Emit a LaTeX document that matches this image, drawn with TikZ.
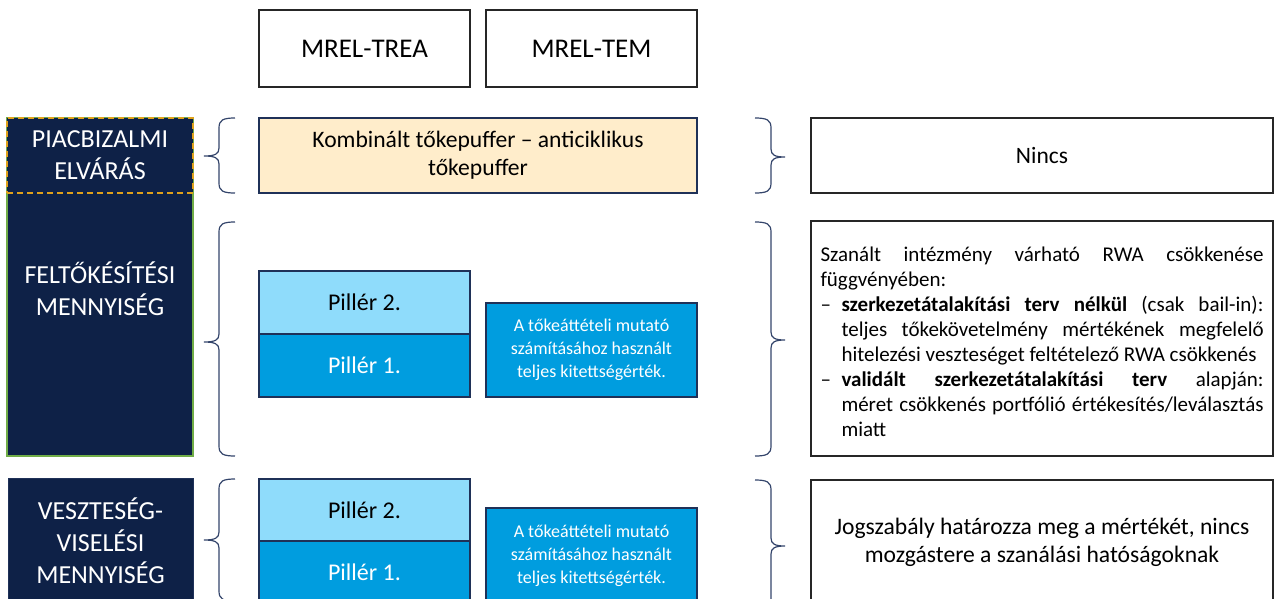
\documentclass[tikz,border=0pt]{standalone}
\usepackage{fontspec}
\setmainfont{Carlito}
\definecolor{navy}{HTML}{0E2147}
\definecolor{edge}{HTML}{1F3158}
\definecolor{paleblue}{HTML}{8FDCFB}
\definecolor{midblue}{HTML}{009DDF}
\definecolor{beige}{HTML}{FFEDCB}
\definecolor{gold}{HTML}{E0A11B}
\definecolor{leaf}{HTML}{70AD47}
\definecolor{bracecol}{HTML}{34456B}
\newcommand\myLeftBrace[3]{\draw[bracestyle] (235,#1) .. controls (223,#1) and (219,{#1+2}) .. (219,{#1+10}) -- (219,{#2-8}) .. controls (219,{#2-2}) and (215,#2) .. (204,#2) .. controls (215,#2) and (219,{#2+2}) .. (219,{#2+8}) -- (219,{#3-10}) .. controls (219,{#3-2}) and (223,#3) .. (235,#3);}
\newcommand\myRightBrace[3]{\draw[bracestyle] (755,#1) .. controls (767,#1) and (771,{#1+2}) .. (771,{#1+10}) -- (771,{#2-8}) .. controls (771,{#2-2}) and (775,#2) .. (785,#2) .. controls (775,#2) and (771,{#2+2}) .. (771,{#2+8}) -- (771,{#3-10}) .. controls (771,{#3-2}) and (767,#3) .. (755,#3);}
\begin{document}
\begin{tikzpicture}[x=1pt,y=-1pt,
  every node/.style={inner sep=0pt, outer sep=0pt, anchor=north west, align=center},
  plainbox/.style={draw=black!85, line width=1.3pt, fill=white},
  labelbox/.style={fill=navy, text=white, font=\fontsize{26}{32}\selectfont},
  p2box/.style={draw=edge, line width=1.4pt, fill=paleblue, text=black, font=\fontsize{24}{28}\selectfont},
  p1box/.style={draw=edge, line width=1.4pt, fill=midblue, text=white, font=\fontsize{24}{28}\selectfont},
  levbox/.style={draw=edge, line width=1.4pt, fill=midblue, text=white, font=\fontsize{18}{23}\selectfont},
  bracestyle/.style={draw=bracecol, line width=1.2pt}
]
\useasboundingbox (0,0) rectangle (1274,598);

% header boxes
\node[plainbox, minimum width=211pt, minimum height=77pt, font=\fontsize{27}{32}\selectfont] (trea) at (259,10) {MREL-TREA};
\node[plainbox, minimum width=211pt, minimum height=77pt, font=\fontsize{27}{32}\selectfont] (tem) at (486,10) {MREL-TEM};

% left labels
\node[labelbox, draw=leaf, line width=1.3pt, minimum width=186pt, minimum height=338pt] (felt) at (7,118) {};
\node[text=white, font=\fontsize{26}{32}\selectfont, anchor=center] (feltt) at (100,289) {FELTŐKÉSÍTÉSI\\MENNYISÉG};
\node[labelbox, draw=gold, dashed, dash pattern=on 6pt off 4pt, line width=1.3pt, minimum width=186pt, minimum height=75pt] (piac) at (7,118) {PIACBIZALMI\\ELVÁRÁS};
\node[labelbox, draw=edge, line width=0.8pt, minimum width=185pt, minimum height=126pt] (vesz) at (8,478) {VESZTESÉG-\\VISELÉSI\\MENNYISÉG};

% top row
\node[draw=edge, line width=1.4pt, fill=beige, minimum width=438pt, minimum height=75pt, font=\fontsize{23.6}{28}\selectfont] (komb) at (259,118) {Kombinált tőkepuffer – anticiklikus\\tőkepuffer};
\node[plainbox, minimum width=462pt, minimum height=75pt, font=\fontsize{23.5}{28}\selectfont] (nincs) at (811,118) {Nincs};

% middle row
\node[p2box, minimum width=211pt, minimum height=63pt] (p2a) at (259,271) {Pillér 2.};
\node[p1box, minimum width=211pt, minimum height=63pt] (p1a) at (259,334) {Pillér 1.};
\node[levbox, minimum width=211pt, minimum height=94pt] (leva) at (486,303) {A tőkeáttételi mutató\\számításához használt\\teljes kitettségérték.};
\node[plainbox, minimum width=462pt, minimum height=235pt] (szan) at (811,221) {};
\node[anchor=center, text width=443pt, align=justify, font=\fontsize{21}{25}\selectfont] (szant) at (1042,342) {%
Szanált intézmény várható RWA csökkenése\linebreak függvényében:\par
\hangindent=21pt\hangafter=1\noindent\makebox[21pt][l]{–}\textbf{szerkezetátalakítási terv nélkül} (csak bail-in):\linebreak teljes tőkekövetelmény mértékének megfelelő\linebreak hitelezési veszteséget feltételező RWA csökkenés\par
\hangindent=21pt\hangafter=1\noindent\makebox[21pt][l]{–}\textbf{validált szerkezetátalakítási terv} alapján:\linebreak méret csökkenés portfólió értékesítés/leválasztás\linebreak miatt\par};

% bottom row
\node[p2box, minimum width=211pt, minimum height=62pt] (p2b) at (259,479) {Pillér 2.};
\node[p1box, minimum width=211pt, minimum height=62pt] (p1b) at (259,541) {Pillér 1.};
\node[levbox, minimum width=211pt, minimum height=95pt] (levb) at (486,508) {A tőkeáttételi mutató\\számításához használt\\teljes kitettségérték.};
\node[plainbox, minimum width=462pt, minimum height=130pt] (jog) at (811,480) {};
\node[anchor=center, font=\fontsize{23.6}{28}\selectfont] (jogt) at (1042,542) {Jogszabály határozza meg a mértékét, nincs\\mozgástere a szanálási hatóságoknak};

% braces
\myLeftBrace{118}{156}{193}
\myLeftBrace{222}{342}{456}
\myLeftBrace{479}{540}{601}
\myRightBrace{118}{157}{193}
\myRightBrace{222}{340}{456}
\myRightBrace{480}{546}{612}
\end{tikzpicture}
\end{document}
